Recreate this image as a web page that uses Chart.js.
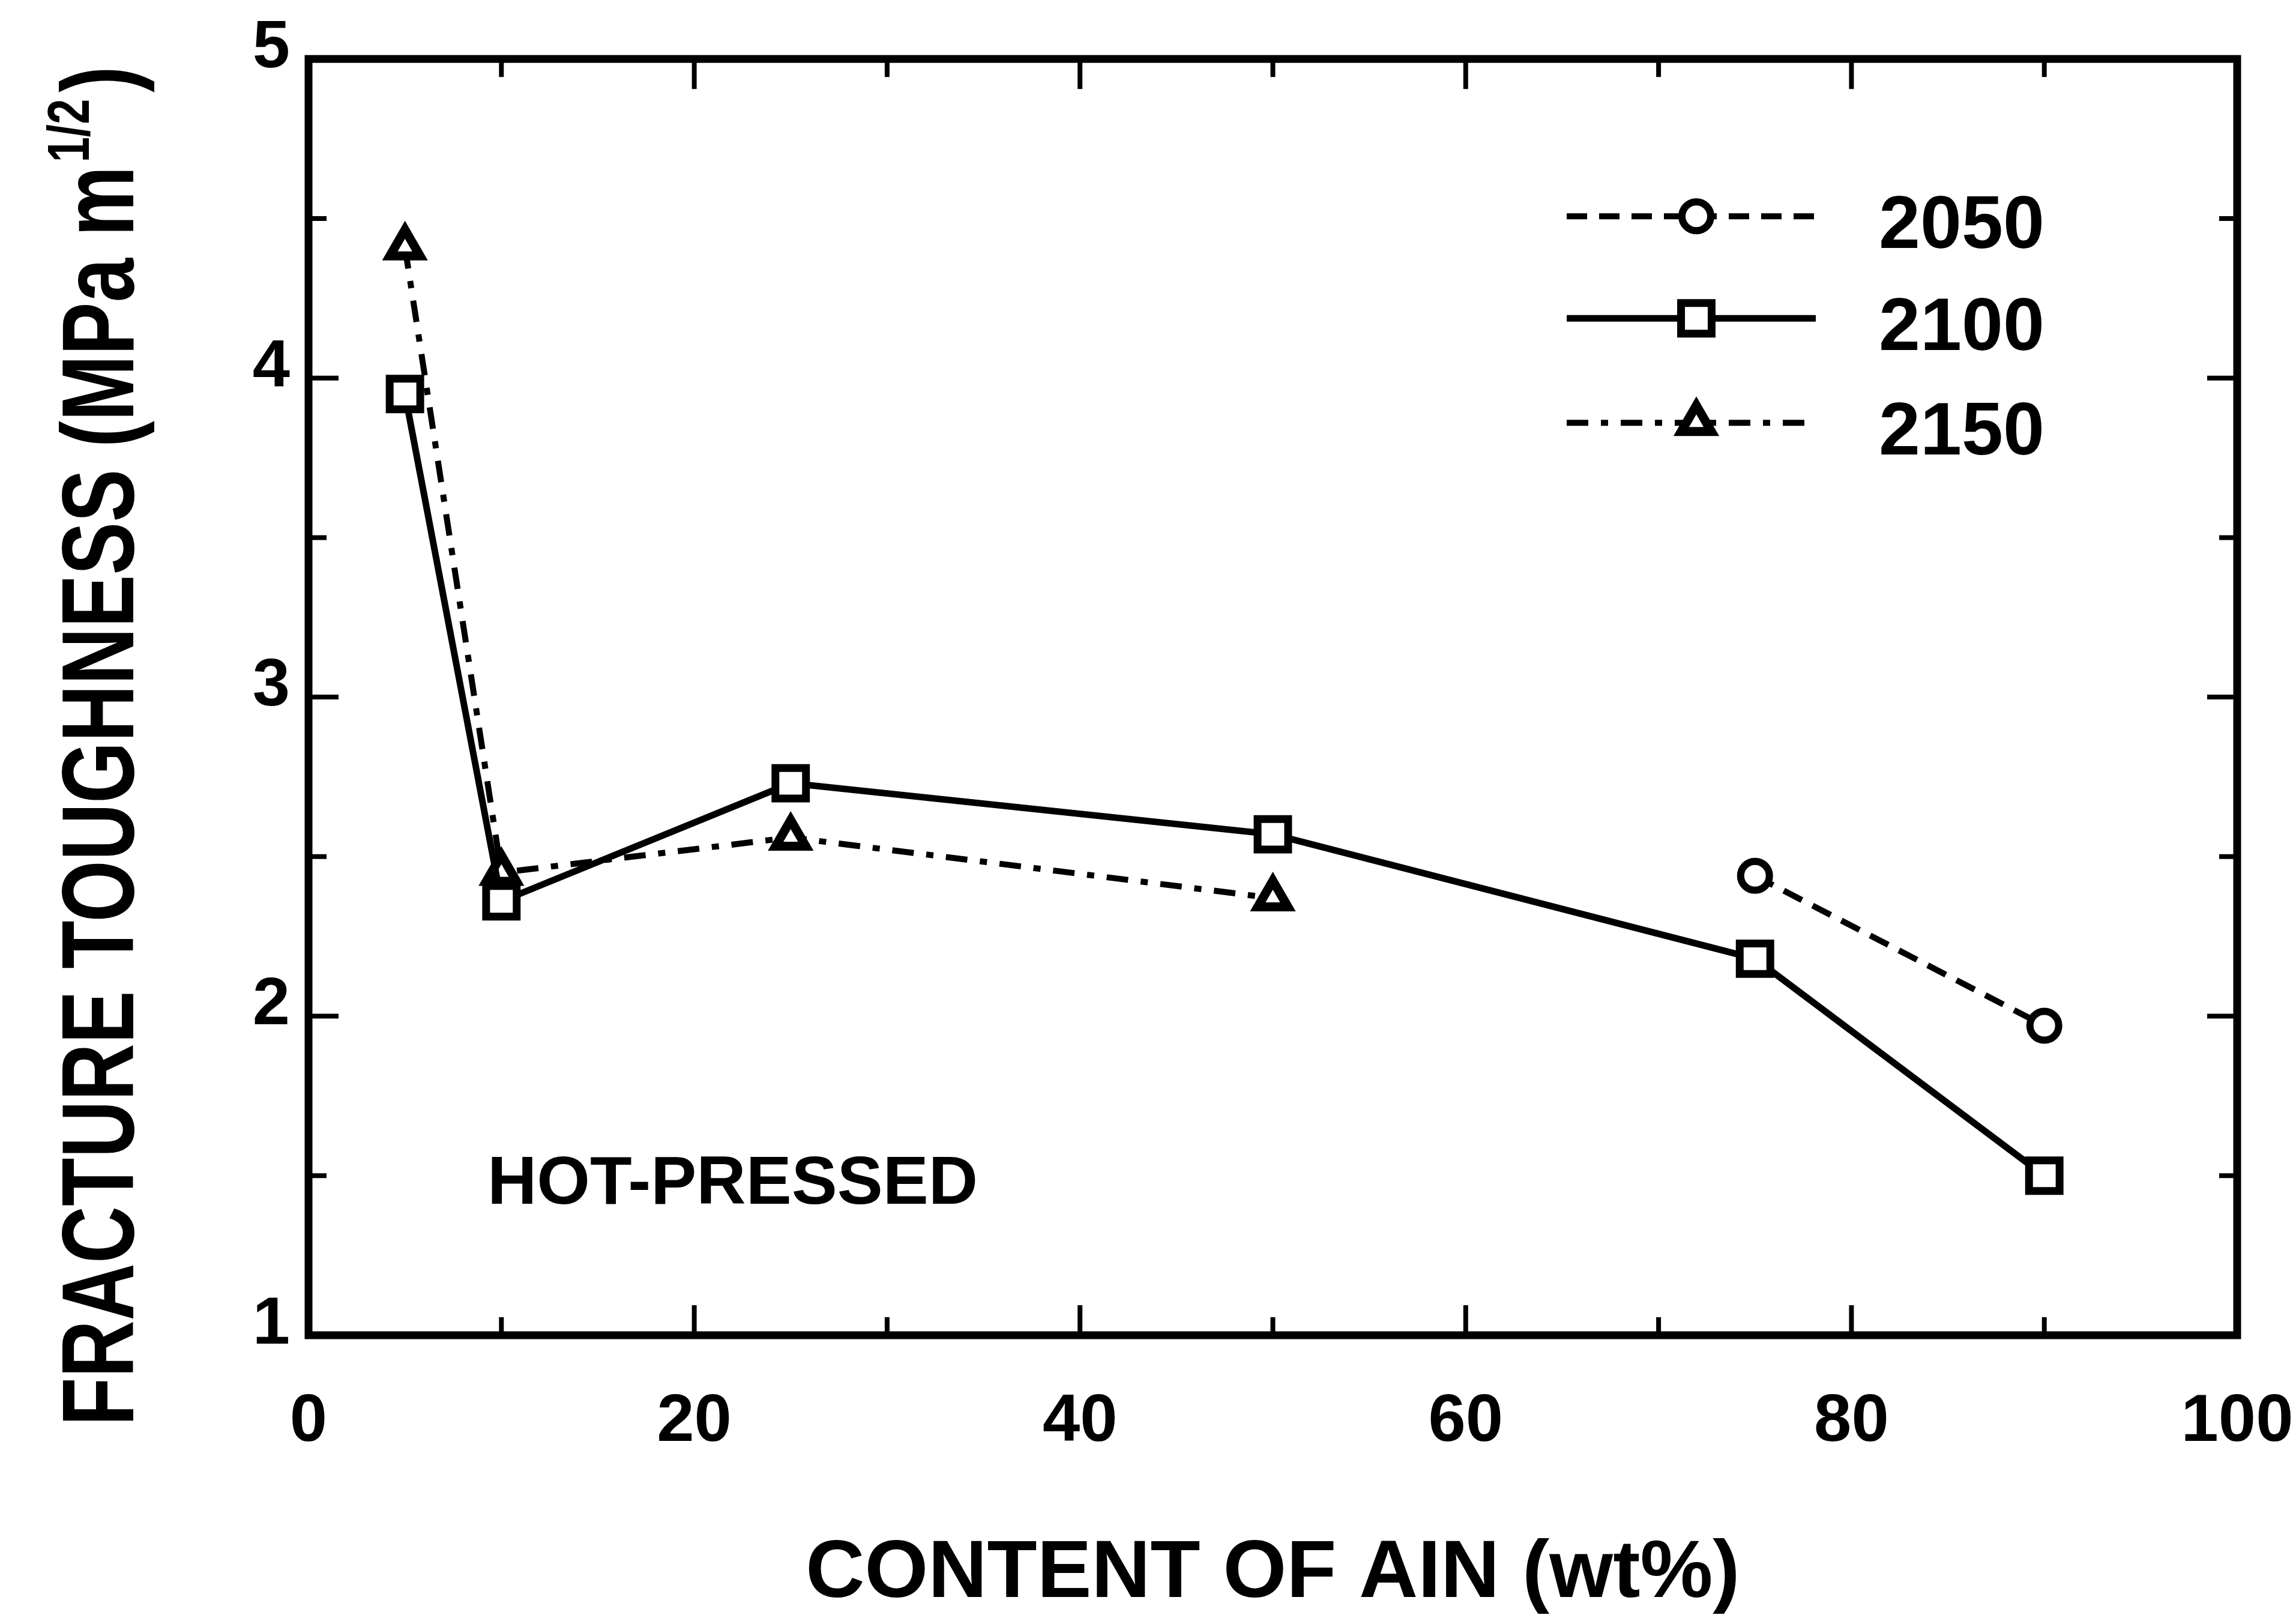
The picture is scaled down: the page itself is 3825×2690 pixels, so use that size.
<!DOCTYPE html>
<html><head><meta charset="utf-8">
<script src="https://cdn.jsdelivr.net/npm/chart.js@4.4.1/dist/chart.umd.min.js"></script>
<style>html,body{margin:0;padding:0;background:#fff;}#wrap{width:3825px;height:2690px;position:relative;}</style>
</head><body><div id="wrap"><canvas id="c"></canvas></div>
<script>
// ---- data ----
const seriesNames = ['2050', '2100', '2150'];
const aln2050 = [75, 90];
const tough2050 = [2.44, 1.97];
const aln2100 = [5, 10, 25, 50, 75, 90];
const tough2100 = [3.95, 2.36, 2.73, 2.57, 2.18, 1.50];
const aln2150 = [5, 10, 25, 50];
const tough2150 = [4.41, 2.45, 2.56, 2.37];
const xTickLabels = ['0', '20', '40', '60', '80', '100'];
const yTickLabels = ['1', '2', '3', '4', '5'];
const xTitle = 'CONTENT OF AIN (wt%)';
const yTitleMain = 'FRACTURE TOUGHNESS (MPa m';
const yTitleSup = '1/2';
const yTitleEnd = ')';
const noteText = 'HOT-PRESSED';

const FAM = '"Liberation Sans", Arial, Helvetica, sans-serif';
Chart.defaults.font.family = FAM;
Chart.defaults.color = '#000';

function pts(xs, ys) { return xs.map((x, i) => ({ x: x, y: ys[i] })); }

const datasets = [
  { label: seriesNames[0], data: pts(aln2050, tough2050), borderColor: '#000', borderWidth: 10,
    borderDash: [34, 20], pointStyle: 'circle', pointRadius: 24, pointBorderWidth: 12,
    pointBackgroundColor: '#fff', pointBorderColor: '#000', tension: 0, fill: false },
  { label: seriesNames[1], data: pts(aln2100, tough2100), borderColor: '#000', borderWidth: 11,
    borderDash: [], pointStyle: 'rect', pointRadius: 36, pointBorderWidth: 13,
    pointBackgroundColor: '#fff', pointBorderColor: '#000', tension: 0, fill: false },
  { label: seriesNames[2], data: pts(aln2150, tough2150), borderColor: '#000', borderWidth: 10,
    borderDash: [36, 21, 12, 21], pointStyle: 'triangle', pointRadius: 29, pointBorderWidth: 15,
    pointBackgroundColor: '#fff', pointBorderColor: '#000', tension: 0, fill: false }
];

const framePlugin = {
  id: 'frameTicks',
  afterDraw(chart) {
    const ctx = chart.ctx, a = chart.chartArea;
    ctx.save();
    ctx.strokeStyle = '#000';
    ctx.setLineDash([]);
    // inward ticks
    ctx.lineWidth = 8;
    const xs = chart.scales.x, ys = chart.scales.y;
    xs.ticks.forEach((t, i) => {
      const px = xs.getPixelForTick(i);
      if (px <= a.left + 2 || px >= a.right - 2) return;
      const len = t.label !== '' ? 50 : 30;
      ctx.beginPath();
      ctx.moveTo(px, a.bottom); ctx.lineTo(px, a.bottom - len);
      ctx.moveTo(px, a.top); ctx.lineTo(px, a.top + len);
      ctx.stroke();
    });
    ys.ticks.forEach((t, i) => {
      const py = ys.getPixelForTick(i);
      if (py <= a.top + 2 || py >= a.bottom - 2) return;
      const len = t.label !== '' ? 50 : 30;
      ctx.beginPath();
      ctx.moveTo(a.left, py); ctx.lineTo(a.left + len, py);
      ctx.moveTo(a.right, py); ctx.lineTo(a.right - len, py);
      ctx.stroke();
    });
    // frame
    ctx.lineWidth = 13;
    ctx.lineJoin = 'miter';
    ctx.strokeRect(a.left, a.top, a.right - a.left, a.bottom - a.top);

    // y axis title with superscript (condensed along the text)
    ctx.fillStyle = '#000';
    ctx.save();
    ctx.translate(a.left - 292, a.bottom + 151);
    ctx.rotate(-Math.PI / 2);
    ctx.scale(0.775, 1);
    ctx.textAlign = 'left';
    ctx.textBaseline = 'alphabetic';
    ctx.font = 'bold 170px ' + FAM;
    ctx.fillText(yTitleMain, 0, 0);
    const w1 = ctx.measureText(yTitleMain).width;
    ctx.font = 'bold 98px ' + FAM;
    ctx.fillText(yTitleSup, w1 + 8, -74);
    const w2 = ctx.measureText(yTitleSup).width;
    ctx.font = 'bold 170px ' + FAM;
    ctx.fillText(yTitleEnd, w1 + 8 + w2 + 14, 0);
    ctx.restore();

    // annotation
    ctx.font = 'bold 114px ' + FAM;
    ctx.textAlign = 'left';
    ctx.textBaseline = 'alphabetic';
    ctx.fillText(noteText, a.left + 298, a.bottom - 219);

    // legend
    const rows = [a.top + 262, a.top + 432, a.top + 606];
    const x0 = a.left + 2096, x1 = a.left + 2511, xm = a.left + 2312, xt = a.left + 2616;
    chart.data.datasets.forEach((ds, i) => {
      const y = rows[i];
      ctx.lineWidth = ds.borderWidth;
      ctx.setLineDash(ds.borderDash || []);
      ctx.lineCap = 'butt';
      ctx.beginPath(); ctx.moveTo(x0, y); ctx.lineTo(x1, y); ctx.stroke();
      ctx.setLineDash([]);
      ctx.fillStyle = '#fff';
      ctx.strokeStyle = '#000';
      ctx.lineWidth = ds.pointBorderWidth;
      Chart.helpers.drawPoint(ctx, { pointStyle: ds.pointStyle, rotation: 0, radius: ds.pointRadius, borderWidth: ds.pointBorderWidth }, xm, y);
      ctx.fillStyle = '#000';
      ctx.font = 'bold 124px ' + FAM;
      ctx.fillText(ds.label, xt, y + 8 + 0.358 * 124);
    });
    ctx.restore();
  }
};

new Chart(document.getElementById('c'), {
  type: 'line',
  data: { datasets: datasets },
  plugins: [framePlugin],
  options: {
    responsive: true, maintainAspectRatio: false, animation: false, devicePixelRatio: 1,
    layout: { padding: { top: 97, right: 98, left: 0, bottom: 0 } },
    plugins: { legend: { display: false }, tooltip: { enabled: false }, title: { display: false } },
    scales: {
      x: {
        type: 'linear', min: 0, max: 100,
        grid: { display: false, drawTicks: false }, border: { display: false },
        ticks: { stepSize: 10, autoSkip: false, maxRotation: 0, padding: 78,
          font: { size: 112, weight: 'bold' }, color: '#000',
          callback: (v) => xTickLabels.includes(String(v)) ? String(v) : '' },
        title: { display: true, text: xTitle, color: '#000',
          font: { size: 136, weight: 'bold', lineHeight: 1.0 }, padding: { top: 0, bottom: 0 } },
        afterFit: (s) => { s.height = 466; s.paddingLeft = 0; s.paddingRight = 0; }
      },
      y: {
        type: 'linear', min: 1, max: 5,
        grid: { display: false, drawTicks: false }, border: { display: false },
        ticks: { stepSize: 0.5, autoSkip: false, padding: 31, labelOffset: -17,
          font: { size: 112, weight: 'bold' }, color: '#000',
          callback: (v) => yTickLabels.includes(String(v)) ? String(v) : '' },
        afterFit: (s) => { s.width = 514; }
      }
    }
  }
});
</script></body></html>
